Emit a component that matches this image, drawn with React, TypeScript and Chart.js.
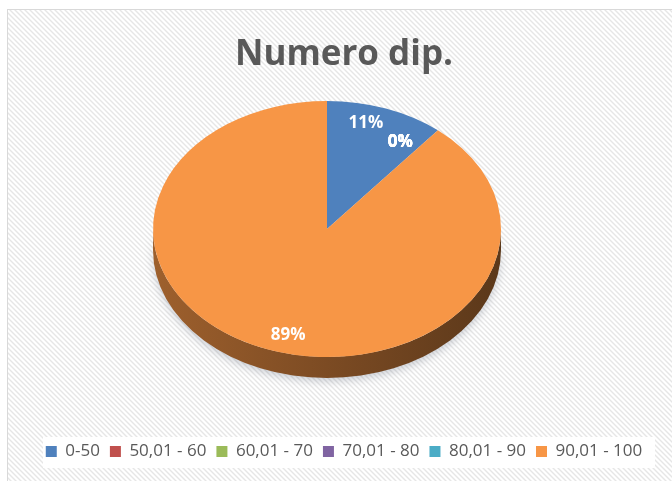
import React, { useEffect, useRef } from "react";
import { Chart, registerables } from "chart.js";

Chart.register(...registerables);

const CATEGORIES = ["0-50", "50,01 - 60", "60,01 - 70", "70,01 - 80", "80,01 - 90", "90,01 - 100"];
const VALUES = [11, 0, 0, 0, 0, 89];
const COLORS = ["#4f81bd", "#c0504d", "#9bbb59", "#8064a2", "#4bacc6", "#f79646"];
const TITLE = "Numero dip.";

const W = 688;
const H = 490;
const PIE = { cx: 327, cy: 229, rx: 174, ry: 128, depth: 21 };
const LABEL_RX = 0.66;
const LABEL_RY = 0.88;

function shade(hex: string, f: number) {
  const n = parseInt(hex.slice(1), 16);
  const r = Math.round(((n >> 16) & 255) * f);
  const g = Math.round(((n >> 8) & 255) * f);
  const b = Math.round((n & 255) * f);
  return `rgb(${r},${g},${b})`;
}

const bgPlugin = {
  id: "bgPattern",
  beforeDraw(chart: any) {
    const ctx = chart.ctx as CanvasRenderingContext2D;
    ctx.save();
    ctx.fillStyle = "#ffffff";
    ctx.fillRect(0, 0, W, H);
    const tile = document.createElement("canvas");
    tile.width = 5;
    tile.height = 5;
    const t = tile.getContext("2d")!;
    t.strokeStyle = "#e6e6e6";
    t.lineWidth = 1.4;
    t.beginPath();
    t.moveTo(-1, -1);
    t.lineTo(6, 6);
    t.moveTo(-1, 4);
    t.lineTo(1, 6);
    t.moveTo(4, -1);
    t.lineTo(6, 1);
    t.stroke();
    const pat = ctx.createPattern(tile, "repeat");
    if (pat) ctx.fillStyle = pat;
    ctx.fillRect(8, 10, W, H);
    ctx.fillStyle = "#ffffff";
    ctx.fillRect(43, 437, 612, 31);
    ctx.strokeStyle = "#d9d9d9";
    ctx.lineWidth = 1;
    ctx.strokeRect(7.5, 9.5, W, H);
    ctx.restore();
  },
};

const pie3dPlugin = {
  id: "pie3d",
  beforeDatasetsDraw(chart: any) {
    const ctx = chart.ctx as CanvasRenderingContext2D;
    const meta = chart.getDatasetMeta(0);
    const first = meta.data[0];
    const { x, y, outerRadius } = first.getProps(["x", "y", "outerRadius"], true);
    // side wall
    ctx.save();
    meta.data.forEach((arc: any, i: number) => {
      const { startAngle, endAngle } = arc.getProps(["startAngle", "endAngle"], true);
      for (const off of [0, 2 * Math.PI]) {
        const a0 = Math.max(startAngle, off);
        const a1 = Math.min(endAngle, off + Math.PI);
        if (a1 <= a0) continue;
        const base = COLORS[i];
        const g = ctx.createLinearGradient(PIE.cx - PIE.rx, 0, PIE.cx + PIE.rx, 0);
        g.addColorStop(0, shade(base, 0.64));
        g.addColorStop(0.5, shade(base, 0.5));
        g.addColorStop(1, shade(base, 0.37));
        ctx.beginPath();
        ctx.ellipse(PIE.cx, PIE.cy, PIE.rx, PIE.ry, 0, a0, a1, false);
        ctx.ellipse(PIE.cx, PIE.cy + PIE.depth, PIE.rx, PIE.ry, 0, a1, a0, true);
        ctx.closePath();
        ctx.shadowColor = "rgba(80,90,110,0.3)";
        ctx.shadowBlur = 8;
        ctx.shadowOffsetY = 3;
        ctx.fillStyle = g;
        ctx.fill();
      }
    });
    ctx.restore();
    // squash the top face into an ellipse
    ctx.save();
    ctx.translate(PIE.cx, PIE.cy);
    ctx.scale(PIE.rx / outerRadius, PIE.ry / outerRadius);
    ctx.translate(-x, -y);
  },
  afterDatasetsDraw(chart: any) {
    const ctx = chart.ctx as CanvasRenderingContext2D;
    ctx.restore();
    const meta = chart.getDatasetMeta(0);
    const data = chart.data.datasets[0].data as number[];
    const total = data.reduce((a, b) => a + b, 0);
    ctx.save();
    ctx.font = "bold 17px 'Open Sans'";
    ctx.fillStyle = "#ffffff";
    ctx.textAlign = "center";
    ctx.textBaseline = "middle";
    meta.data.forEach((arc: any, i: number) => {
      const { startAngle, endAngle } = arc.getProps(["startAngle", "endAngle"], true);
      const mid = (startAngle + endAngle) / 2;
      const px = PIE.cx + Math.cos(mid) * PIE.rx * LABEL_RX;
      const py = PIE.cy + Math.sin(mid) * PIE.ry * LABEL_RY;
      const pct = Math.round((data[i] / total) * 100);
      ctx.fillText(pct + "%", px, py);
    });
    ctx.restore();
  },
};

export default function App() {
  const ref = useRef<HTMLCanvasElement | null>(null);
  useEffect(() => {
    if (!ref.current) return;
    const chart = new Chart(ref.current, {
      type: "pie",
      data: {
        labels: CATEGORIES,
        datasets: [
          {
            data: VALUES,
            backgroundColor: COLORS,
            borderWidth: 0,
          },
        ],
      },
      options: {
        responsive: false,
        animation: false,
        events: [],
        layout: { padding: { top: 24, bottom: 20, left: 10, right: 10 } },
        plugins: {
          title: {
            display: true,
            text: TITLE,
            color: "#595959",
            font: { family: "'Open Sans'", size: 35, weight: "bold" },
            padding: { top: 10, bottom: 10 },
          },
          legend: {
            position: "bottom",
            labels: {
              boxWidth: 11,
              boxHeight: 11,
              color: "#595959",
              font: { family: "'Open Sans'", size: 17 },
              padding: 10,
            },
          },
          tooltip: { enabled: false },
        },
      },
      plugins: [bgPlugin, pie3dPlugin],
    } as any);
    return () => chart.destroy();
  }, []);
  return (
    <div style={{ position: "absolute", left: 0, top: 0, width: 672, height: 481, overflow: "hidden" }}>
      <canvas ref={ref} width={W} height={H} style={{ display: "block", width: W, height: H }} />
    </div>
  );
}
